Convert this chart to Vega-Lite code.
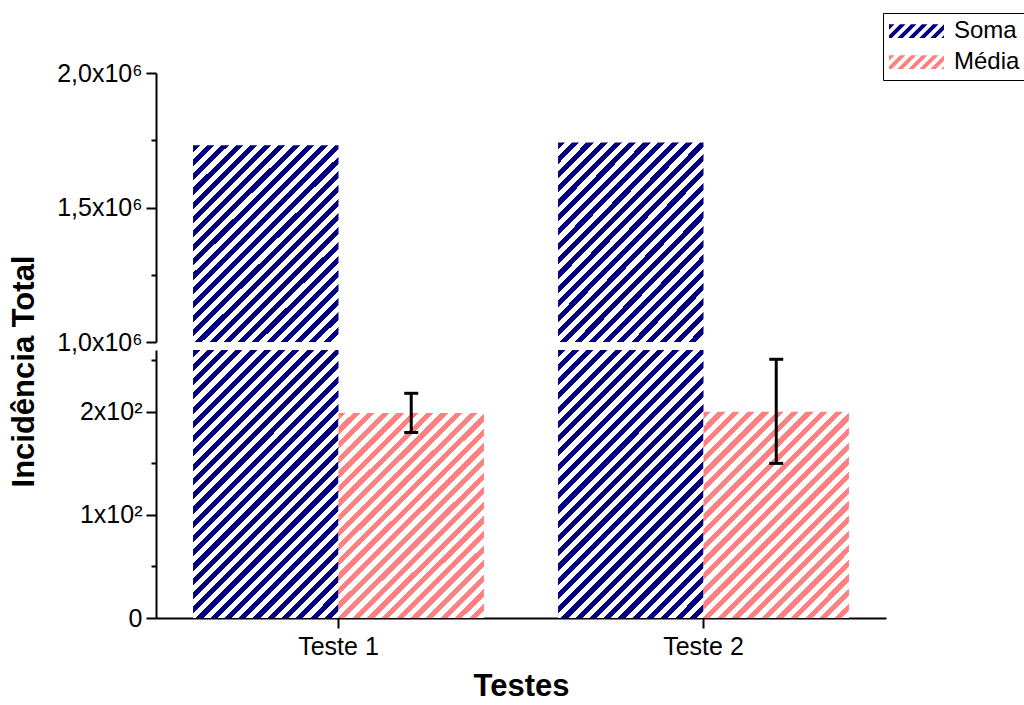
{
  "$schema": "https://vega.github.io/schema/vega-lite/v6.json",
  "background": "white",
  "padding": {"left": 8, "top": 12, "right": 0, "bottom": 0},
  "spacing": 8,
  "bounds": "flush",
  "config": {
    "font": "Liberation Sans",
    "view": {"stroke": null},
    "axis": {"domainColor": "black", "domainWidth": 2, "tickColor": "black", "tickWidth": 2, "labelColor": "black", "labelFontSize": 25, "labelFont": "Liberation Sans", "titleFont": "Liberation Sans", "titleFontSize": 31, "titleFontWeight": "bold", "titleColor": "black", "grid": false, "labelPadding": 4}
  },
  "data": {"values": [
    {"teste": "Teste 1", "serie": "Soma", "valor": 1731000},
    {"teste": "Teste 1", "serie": "Média", "valor": 199, "inferior": 180, "superior": 218},
    {"teste": "Teste 2", "serie": "Soma", "valor": 1742000},
    {"teste": "Teste 2", "serie": "Média", "valor": 200, "inferior": 150, "superior": 251}
  ]},
  "vconcat": [
    {
      "width": 730, "height": 269,
      "transform": [{"filter": "datum.serie === 'Soma'"}],
      "mark": {"type": "bar", "fill": {"gradient": "linear", "x1": 0, "y1": 0, "x2": 0.826, "y2": 1.122, "stops": [
        {"offset": 0, "color": "#000080"}, {"offset": 0.020833, "color": "#000080"}, {"offset": 0.020833, "color": "#ffffff"}, {"offset": 0.041667, "color": "#ffffff"},
        {"offset": 0.041667, "color": "#000080"}, {"offset": 0.0625, "color": "#000080"}, {"offset": 0.0625, "color": "#ffffff"}, {"offset": 0.083333, "color": "#ffffff"},
        {"offset": 0.083333, "color": "#000080"}, {"offset": 0.104167, "color": "#000080"}, {"offset": 0.104167, "color": "#ffffff"}, {"offset": 0.125, "color": "#ffffff"},
        {"offset": 0.125, "color": "#000080"}, {"offset": 0.145833, "color": "#000080"}, {"offset": 0.145833, "color": "#ffffff"}, {"offset": 0.166667, "color": "#ffffff"},
        {"offset": 0.166667, "color": "#000080"}, {"offset": 0.1875, "color": "#000080"}, {"offset": 0.1875, "color": "#ffffff"}, {"offset": 0.208333, "color": "#ffffff"},
        {"offset": 0.208333, "color": "#000080"}, {"offset": 0.229167, "color": "#000080"}, {"offset": 0.229167, "color": "#ffffff"}, {"offset": 0.25, "color": "#ffffff"},
        {"offset": 0.25, "color": "#000080"}, {"offset": 0.270833, "color": "#000080"}, {"offset": 0.270833, "color": "#ffffff"}, {"offset": 0.291667, "color": "#ffffff"},
        {"offset": 0.291667, "color": "#000080"}, {"offset": 0.3125, "color": "#000080"}, {"offset": 0.3125, "color": "#ffffff"}, {"offset": 0.333333, "color": "#ffffff"},
        {"offset": 0.333333, "color": "#000080"}, {"offset": 0.354167, "color": "#000080"}, {"offset": 0.354167, "color": "#ffffff"}, {"offset": 0.375, "color": "#ffffff"},
        {"offset": 0.375, "color": "#000080"}, {"offset": 0.395833, "color": "#000080"}, {"offset": 0.395833, "color": "#ffffff"}, {"offset": 0.416667, "color": "#ffffff"},
        {"offset": 0.416667, "color": "#000080"}, {"offset": 0.4375, "color": "#000080"}, {"offset": 0.4375, "color": "#ffffff"}, {"offset": 0.458333, "color": "#ffffff"},
        {"offset": 0.458333, "color": "#000080"}, {"offset": 0.479167, "color": "#000080"}, {"offset": 0.479167, "color": "#ffffff"}, {"offset": 0.5, "color": "#ffffff"},
        {"offset": 0.5, "color": "#000080"}, {"offset": 0.520833, "color": "#000080"}, {"offset": 0.520833, "color": "#ffffff"}, {"offset": 0.541667, "color": "#ffffff"},
        {"offset": 0.541667, "color": "#000080"}, {"offset": 0.5625, "color": "#000080"}, {"offset": 0.5625, "color": "#ffffff"}, {"offset": 0.583333, "color": "#ffffff"},
        {"offset": 0.583333, "color": "#000080"}, {"offset": 0.604167, "color": "#000080"}, {"offset": 0.604167, "color": "#ffffff"}, {"offset": 0.625, "color": "#ffffff"},
        {"offset": 0.625, "color": "#000080"}, {"offset": 0.645833, "color": "#000080"}, {"offset": 0.645833, "color": "#ffffff"}, {"offset": 0.666667, "color": "#ffffff"},
        {"offset": 0.666667, "color": "#000080"}, {"offset": 0.6875, "color": "#000080"}, {"offset": 0.6875, "color": "#ffffff"}, {"offset": 0.708333, "color": "#ffffff"},
        {"offset": 0.708333, "color": "#000080"}, {"offset": 0.729167, "color": "#000080"}, {"offset": 0.729167, "color": "#ffffff"}, {"offset": 0.75, "color": "#ffffff"},
        {"offset": 0.75, "color": "#000080"}, {"offset": 0.770833, "color": "#000080"}, {"offset": 0.770833, "color": "#ffffff"}, {"offset": 0.791667, "color": "#ffffff"},
        {"offset": 0.791667, "color": "#000080"}, {"offset": 0.8125, "color": "#000080"}, {"offset": 0.8125, "color": "#ffffff"}, {"offset": 0.833333, "color": "#ffffff"},
        {"offset": 0.833333, "color": "#000080"}, {"offset": 0.854167, "color": "#000080"}, {"offset": 0.854167, "color": "#ffffff"}, {"offset": 0.875, "color": "#ffffff"},
        {"offset": 0.875, "color": "#000080"}, {"offset": 0.895833, "color": "#000080"}, {"offset": 0.895833, "color": "#ffffff"}, {"offset": 0.916667, "color": "#ffffff"},
        {"offset": 0.916667, "color": "#000080"}, {"offset": 0.9375, "color": "#000080"}, {"offset": 0.9375, "color": "#ffffff"}, {"offset": 0.958333, "color": "#ffffff"},
        {"offset": 0.958333, "color": "#000080"}, {"offset": 0.979167, "color": "#000080"}, {"offset": 0.979167, "color": "#ffffff"}, {"offset": 1, "color": "#ffffff"}
      ]}},
      "encoding": {
        "x": {"field": "teste", "type": "nominal", "scale": {"domain": ["Teste 1", "Teste 2"], "paddingInner": 0.203, "paddingOuter": 0.1015}, "axis": null},
        "xOffset": {"field": "serie", "type": "nominal", "scale": {"domain": ["Soma", "Média"], "paddingInner": 0, "paddingOuter": 0}},
        "y": {"field": "valor", "type": "quantitative", "scale": {"domain": [1000000, 2000000], "zero": false, "clamp": true, "nice": false},
          "axis": {"title": null, "values": [1000000, 1250000, 1500000, 1750000, 2000000], "labelExpr": "datum.value == 1000000 ? '1,0x10⁶' : datum.value == 1500000 ? '1,5x10⁶' : datum.value == 2000000 ? '2,0x10⁶' : ''", "tickSize": {"condition": {"test": "datum.value % 500000 === 0", "value": 10}, "value": 5}, "labelFlush": false, "labelOverlap": false, "labelBound": false}},
        "y2": {"datum": 1000000}
      }
    },
    {
      "width": 730, "height": 268,
      "encoding": {
        "x": {"field": "teste", "type": "nominal", "scale": {"domain": ["Teste 1", "Teste 2"], "paddingInner": 0.203, "paddingOuter": 0.1015}, "axis": {"title": "Testes", "labelAngle": 0, "tickSize": 10, "labelPadding": 6, "titlePadding": 12}},
        "xOffset": {"field": "serie", "type": "nominal", "scale": {"domain": ["Soma", "Média"], "paddingInner": 0, "paddingOuter": 0}}
      },
      "layer": [
        {
          "transform": [{"filter": "datum.serie === 'Soma'"}],
          "mark": {"type": "bar", "fill": {"gradient": "linear", "x1": 0, "y1": 0, "x2": 0.647, "y2": 1.1917, "stops": [
            {"offset": 0, "color": "#000080"}, {"offset": 0.017241, "color": "#000080"}, {"offset": 0.017241, "color": "#ffffff"}, {"offset": 0.034483, "color": "#ffffff"},
            {"offset": 0.034483, "color": "#000080"}, {"offset": 0.051724, "color": "#000080"}, {"offset": 0.051724, "color": "#ffffff"}, {"offset": 0.068966, "color": "#ffffff"},
            {"offset": 0.068966, "color": "#000080"}, {"offset": 0.086207, "color": "#000080"}, {"offset": 0.086207, "color": "#ffffff"}, {"offset": 0.103448, "color": "#ffffff"},
            {"offset": 0.103448, "color": "#000080"}, {"offset": 0.12069, "color": "#000080"}, {"offset": 0.12069, "color": "#ffffff"}, {"offset": 0.137931, "color": "#ffffff"},
            {"offset": 0.137931, "color": "#000080"}, {"offset": 0.155172, "color": "#000080"}, {"offset": 0.155172, "color": "#ffffff"}, {"offset": 0.172414, "color": "#ffffff"},
            {"offset": 0.172414, "color": "#000080"}, {"offset": 0.189655, "color": "#000080"}, {"offset": 0.189655, "color": "#ffffff"}, {"offset": 0.206897, "color": "#ffffff"},
            {"offset": 0.206897, "color": "#000080"}, {"offset": 0.224138, "color": "#000080"}, {"offset": 0.224138, "color": "#ffffff"}, {"offset": 0.241379, "color": "#ffffff"},
            {"offset": 0.241379, "color": "#000080"}, {"offset": 0.258621, "color": "#000080"}, {"offset": 0.258621, "color": "#ffffff"}, {"offset": 0.275862, "color": "#ffffff"},
            {"offset": 0.275862, "color": "#000080"}, {"offset": 0.293103, "color": "#000080"}, {"offset": 0.293103, "color": "#ffffff"}, {"offset": 0.310345, "color": "#ffffff"},
            {"offset": 0.310345, "color": "#000080"}, {"offset": 0.327586, "color": "#000080"}, {"offset": 0.327586, "color": "#ffffff"}, {"offset": 0.344828, "color": "#ffffff"},
            {"offset": 0.344828, "color": "#000080"}, {"offset": 0.362069, "color": "#000080"}, {"offset": 0.362069, "color": "#ffffff"}, {"offset": 0.37931, "color": "#ffffff"},
            {"offset": 0.37931, "color": "#000080"}, {"offset": 0.396552, "color": "#000080"}, {"offset": 0.396552, "color": "#ffffff"}, {"offset": 0.413793, "color": "#ffffff"},
            {"offset": 0.413793, "color": "#000080"}, {"offset": 0.431034, "color": "#000080"}, {"offset": 0.431034, "color": "#ffffff"}, {"offset": 0.448276, "color": "#ffffff"},
            {"offset": 0.448276, "color": "#000080"}, {"offset": 0.465517, "color": "#000080"}, {"offset": 0.465517, "color": "#ffffff"}, {"offset": 0.482759, "color": "#ffffff"},
            {"offset": 0.482759, "color": "#000080"}, {"offset": 0.5, "color": "#000080"}, {"offset": 0.5, "color": "#ffffff"}, {"offset": 0.517241, "color": "#ffffff"},
            {"offset": 0.517241, "color": "#000080"}, {"offset": 0.534483, "color": "#000080"}, {"offset": 0.534483, "color": "#ffffff"}, {"offset": 0.551724, "color": "#ffffff"},
            {"offset": 0.551724, "color": "#000080"}, {"offset": 0.568966, "color": "#000080"}, {"offset": 0.568966, "color": "#ffffff"}, {"offset": 0.586207, "color": "#ffffff"},
            {"offset": 0.586207, "color": "#000080"}, {"offset": 0.603448, "color": "#000080"}, {"offset": 0.603448, "color": "#ffffff"}, {"offset": 0.62069, "color": "#ffffff"},
            {"offset": 0.62069, "color": "#000080"}, {"offset": 0.637931, "color": "#000080"}, {"offset": 0.637931, "color": "#ffffff"}, {"offset": 0.655172, "color": "#ffffff"},
            {"offset": 0.655172, "color": "#000080"}, {"offset": 0.672414, "color": "#000080"}, {"offset": 0.672414, "color": "#ffffff"}, {"offset": 0.689655, "color": "#ffffff"},
            {"offset": 0.689655, "color": "#000080"}, {"offset": 0.706897, "color": "#000080"}, {"offset": 0.706897, "color": "#ffffff"}, {"offset": 0.724138, "color": "#ffffff"},
            {"offset": 0.724138, "color": "#000080"}, {"offset": 0.741379, "color": "#000080"}, {"offset": 0.741379, "color": "#ffffff"}, {"offset": 0.758621, "color": "#ffffff"},
            {"offset": 0.758621, "color": "#000080"}, {"offset": 0.775862, "color": "#000080"}, {"offset": 0.775862, "color": "#ffffff"}, {"offset": 0.793103, "color": "#ffffff"},
            {"offset": 0.793103, "color": "#000080"}, {"offset": 0.810345, "color": "#000080"}, {"offset": 0.810345, "color": "#ffffff"}, {"offset": 0.827586, "color": "#ffffff"},
            {"offset": 0.827586, "color": "#000080"}, {"offset": 0.844828, "color": "#000080"}, {"offset": 0.844828, "color": "#ffffff"}, {"offset": 0.862069, "color": "#ffffff"},
            {"offset": 0.862069, "color": "#000080"}, {"offset": 0.87931, "color": "#000080"}, {"offset": 0.87931, "color": "#ffffff"}, {"offset": 0.896552, "color": "#ffffff"},
            {"offset": 0.896552, "color": "#000080"}, {"offset": 0.913793, "color": "#000080"}, {"offset": 0.913793, "color": "#ffffff"}, {"offset": 0.931034, "color": "#ffffff"},
            {"offset": 0.931034, "color": "#000080"}, {"offset": 0.948276, "color": "#000080"}, {"offset": 0.948276, "color": "#ffffff"}, {"offset": 0.965517, "color": "#ffffff"},
            {"offset": 0.965517, "color": "#000080"}, {"offset": 0.982759, "color": "#000080"}, {"offset": 0.982759, "color": "#ffffff"}, {"offset": 1, "color": "#ffffff"}
          ]}},
          "encoding": {
            "y": {"field": "valor", "type": "quantitative", "scale": {"domain": [0, 260], "clamp": true, "nice": false},
              "axis": {"title": "Incidência Total", "titleX": -123, "titleY": 21, "titleAngle": -90, "titleAlign": "center", "titleBaseline": "alphabetic", "values": [0, 50, 100, 150, 200, 250], "labelExpr": "datum.value == 0 ? '0' : datum.value == 100 ? '1x10²' : datum.value == 200 ? '2x10²' : ''", "tickSize": {"condition": {"test": "datum.value % 100 === 0", "value": 10}, "value": 5}, "labelFlush": false, "labelOverlap": false, "labelBound": false}}
          }
        },
        {
          "transform": [{"filter": "datum.serie === 'Média'"}],
          "mark": {"type": "bar", "fill": {"gradient": "linear", "x1": 0, "y1": 0, "x2": 0.804, "y2": 1.1384, "stops": [
            {"offset": 0, "color": "#ff8080"}, {"offset": 0.020833, "color": "#ff8080"}, {"offset": 0.020833, "color": "#ffffff"}, {"offset": 0.041667, "color": "#ffffff"},
            {"offset": 0.041667, "color": "#ff8080"}, {"offset": 0.0625, "color": "#ff8080"}, {"offset": 0.0625, "color": "#ffffff"}, {"offset": 0.083333, "color": "#ffffff"},
            {"offset": 0.083333, "color": "#ff8080"}, {"offset": 0.104167, "color": "#ff8080"}, {"offset": 0.104167, "color": "#ffffff"}, {"offset": 0.125, "color": "#ffffff"},
            {"offset": 0.125, "color": "#ff8080"}, {"offset": 0.145833, "color": "#ff8080"}, {"offset": 0.145833, "color": "#ffffff"}, {"offset": 0.166667, "color": "#ffffff"},
            {"offset": 0.166667, "color": "#ff8080"}, {"offset": 0.1875, "color": "#ff8080"}, {"offset": 0.1875, "color": "#ffffff"}, {"offset": 0.208333, "color": "#ffffff"},
            {"offset": 0.208333, "color": "#ff8080"}, {"offset": 0.229167, "color": "#ff8080"}, {"offset": 0.229167, "color": "#ffffff"}, {"offset": 0.25, "color": "#ffffff"},
            {"offset": 0.25, "color": "#ff8080"}, {"offset": 0.270833, "color": "#ff8080"}, {"offset": 0.270833, "color": "#ffffff"}, {"offset": 0.291667, "color": "#ffffff"},
            {"offset": 0.291667, "color": "#ff8080"}, {"offset": 0.3125, "color": "#ff8080"}, {"offset": 0.3125, "color": "#ffffff"}, {"offset": 0.333333, "color": "#ffffff"},
            {"offset": 0.333333, "color": "#ff8080"}, {"offset": 0.354167, "color": "#ff8080"}, {"offset": 0.354167, "color": "#ffffff"}, {"offset": 0.375, "color": "#ffffff"},
            {"offset": 0.375, "color": "#ff8080"}, {"offset": 0.395833, "color": "#ff8080"}, {"offset": 0.395833, "color": "#ffffff"}, {"offset": 0.416667, "color": "#ffffff"},
            {"offset": 0.416667, "color": "#ff8080"}, {"offset": 0.4375, "color": "#ff8080"}, {"offset": 0.4375, "color": "#ffffff"}, {"offset": 0.458333, "color": "#ffffff"},
            {"offset": 0.458333, "color": "#ff8080"}, {"offset": 0.479167, "color": "#ff8080"}, {"offset": 0.479167, "color": "#ffffff"}, {"offset": 0.5, "color": "#ffffff"},
            {"offset": 0.5, "color": "#ff8080"}, {"offset": 0.520833, "color": "#ff8080"}, {"offset": 0.520833, "color": "#ffffff"}, {"offset": 0.541667, "color": "#ffffff"},
            {"offset": 0.541667, "color": "#ff8080"}, {"offset": 0.5625, "color": "#ff8080"}, {"offset": 0.5625, "color": "#ffffff"}, {"offset": 0.583333, "color": "#ffffff"},
            {"offset": 0.583333, "color": "#ff8080"}, {"offset": 0.604167, "color": "#ff8080"}, {"offset": 0.604167, "color": "#ffffff"}, {"offset": 0.625, "color": "#ffffff"},
            {"offset": 0.625, "color": "#ff8080"}, {"offset": 0.645833, "color": "#ff8080"}, {"offset": 0.645833, "color": "#ffffff"}, {"offset": 0.666667, "color": "#ffffff"},
            {"offset": 0.666667, "color": "#ff8080"}, {"offset": 0.6875, "color": "#ff8080"}, {"offset": 0.6875, "color": "#ffffff"}, {"offset": 0.708333, "color": "#ffffff"},
            {"offset": 0.708333, "color": "#ff8080"}, {"offset": 0.729167, "color": "#ff8080"}, {"offset": 0.729167, "color": "#ffffff"}, {"offset": 0.75, "color": "#ffffff"},
            {"offset": 0.75, "color": "#ff8080"}, {"offset": 0.770833, "color": "#ff8080"}, {"offset": 0.770833, "color": "#ffffff"}, {"offset": 0.791667, "color": "#ffffff"},
            {"offset": 0.791667, "color": "#ff8080"}, {"offset": 0.8125, "color": "#ff8080"}, {"offset": 0.8125, "color": "#ffffff"}, {"offset": 0.833333, "color": "#ffffff"},
            {"offset": 0.833333, "color": "#ff8080"}, {"offset": 0.854167, "color": "#ff8080"}, {"offset": 0.854167, "color": "#ffffff"}, {"offset": 0.875, "color": "#ffffff"},
            {"offset": 0.875, "color": "#ff8080"}, {"offset": 0.895833, "color": "#ff8080"}, {"offset": 0.895833, "color": "#ffffff"}, {"offset": 0.916667, "color": "#ffffff"},
            {"offset": 0.916667, "color": "#ff8080"}, {"offset": 0.9375, "color": "#ff8080"}, {"offset": 0.9375, "color": "#ffffff"}, {"offset": 0.958333, "color": "#ffffff"},
            {"offset": 0.958333, "color": "#ff8080"}, {"offset": 0.979167, "color": "#ff8080"}, {"offset": 0.979167, "color": "#ffffff"}, {"offset": 1, "color": "#ffffff"}
          ]}},
          "encoding": {"y": {"field": "valor", "type": "quantitative"}}
        },
        {
          "transform": [{"filter": "datum.serie === 'Média'"}],
          "mark": {"type": "rule", "strokeWidth": 3, "color": "black"},
          "encoding": {"y": {"field": "inferior", "type": "quantitative"}, "y2": {"field": "superior"}}
        },
        {
          "transform": [{"filter": "datum.serie === 'Média'"}],
          "mark": {"type": "tick", "thickness": 3, "size": 14, "color": "black", "opacity": 1},
          "encoding": {"y": {"field": "superior", "type": "quantitative"}}
        },
        {
          "transform": [{"filter": "datum.serie === 'Média'"}],
          "mark": {"type": "tick", "thickness": 3, "size": 14, "color": "black", "opacity": 1},
          "encoding": {"y": {"field": "inferior", "type": "quantitative"}}
        },
        {
          "mark": {"type": "point", "opacity": 0, "filled": true},
          "encoding": {
            "y": {"field": "valor", "type": "quantitative"},
            "color": {"field": "serie", "type": "nominal", "scale": {"domain": ["Soma", "Média"], "range": ["#000080", "#ff8080"]},
              "legend": {"title": null, "orient": "none", "legendX": 727, "legendY": -60, "symbolType": "M-1,0.25L-0.9,0.25L-0.4,-0.25L-0.6,-0.25L-1,0.15Z M-1,-0.05L-0.8,-0.25L-1,-0.25Z M-0.7,0.25L-0.5,0.25L0,-0.25L-0.2,-0.25Z M-0.3,0.25L-0.1,0.25L0.4,-0.25L0.2,-0.25Z M0.1,0.25L0.3,0.25L0.8,-0.25L0.6,-0.25Z M0.5,0.25L0.7,0.25L1,-0.05L1,-0.25Z M0.9,0.25L1,0.25L1,0.15Z", "symbolSize": 3025, "symbolOpacity": 1, "symbolStrokeWidth": 0, "clipHeight": 24, "rowPadding": 7, "padding": 6, "labelOffset": 10, "labelFontSize": 24, "labelFont": "Liberation Sans", "labelColor": "black", "strokeColor": "black", "fillColor": "white"}}
          }
        }
      ]
    }
  ]
}
